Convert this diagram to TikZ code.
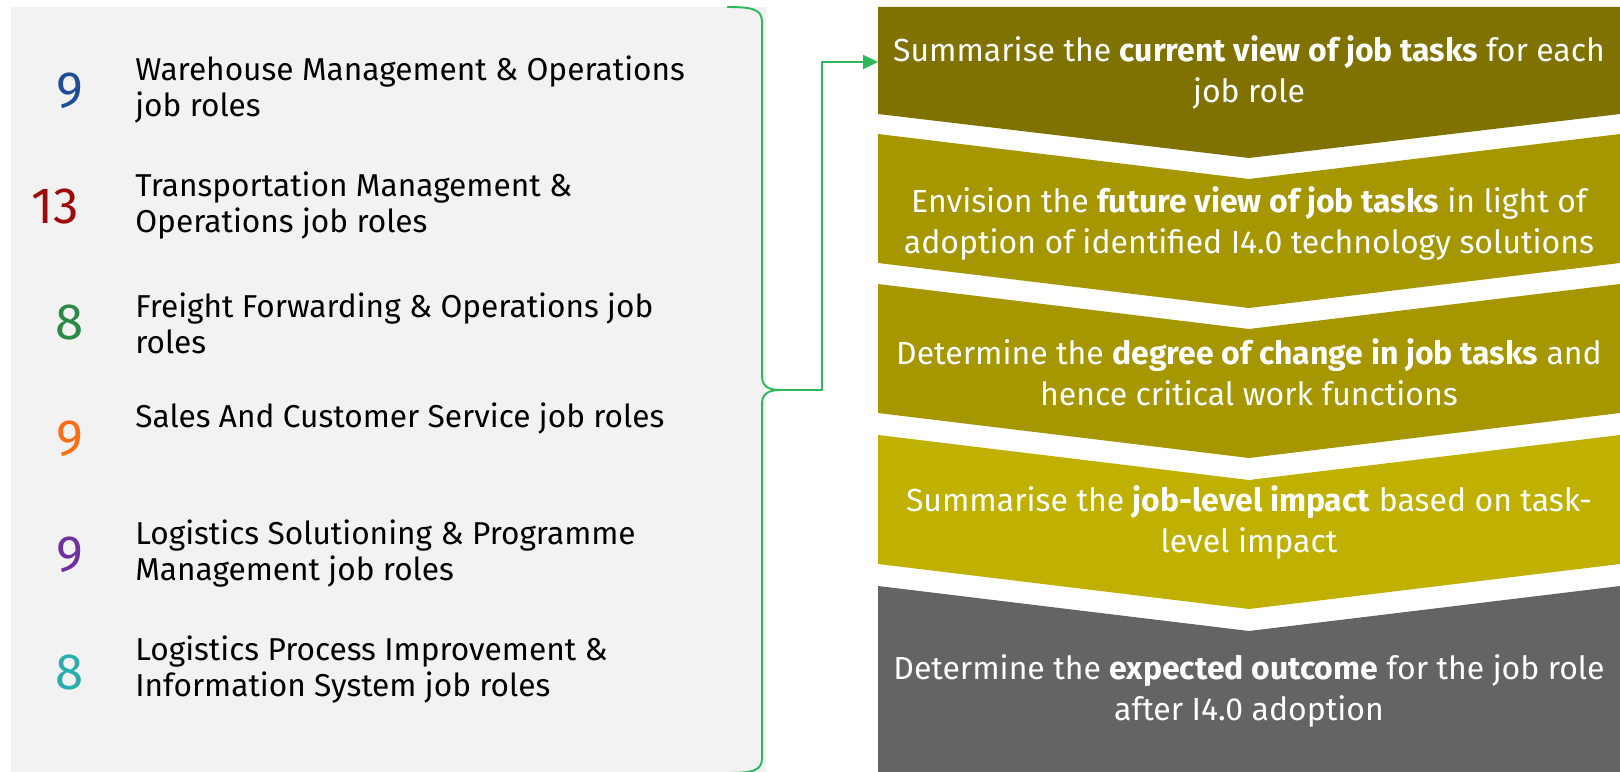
\documentclass[tikz,border=0pt]{standalone}
\usepackage{fontspec}
\setmainfont{Fira Sans}
\usetikzlibrary{arrows.meta,positioning,calc}

\definecolor{panelgray}{HTML}{F2F2F2}
\definecolor{linkgreen}{HTML}{2EB85C}
\definecolor{olivedark}{HTML}{7F7200}
\definecolor{olivemid}{HTML}{A69600}
\definecolor{olivelight}{HTML}{C0B000}
\definecolor{outgray}{HTML}{646464}
\definecolor{numblue}{HTML}{1F4E96}
\definecolor{numred}{HTML}{9E0A0A}
\definecolor{numgreen}{HTML}{2A8A46}
\definecolor{numorange}{HTML}{FF6D0F}
\definecolor{numpurple}{HTML}{7030A0}
\definecolor{numteal}{HTML}{28AFAD}

\begin{document}
\begin{tikzpicture}[
  x=0.2mm, y=-0.2mm,
  num/.style={font=\fontsize{29}{29}\selectfont, anchor=center},
  role/.style={anchor=west, align=left, inner sep=0pt,
               font=\fontsize{18}{20.5}\selectfont},
  steptext/.style={align=center, text=white, inner sep=0pt,
                   font=\fontsize{18.2}{23.3}\selectfont},
  bracepen/.style={draw=linkgreen, line width=1.1pt},
  link/.style={draw=linkgreen, line width=1.1pt,
               -{Triangle[length=3mm, width=2.8mm]}}
]
\useasboundingbox (0,0) rectangle (1620,772);

% left panel with the job role families
\fill[panelgray] (11,7) rectangle (766,772);

\node[num, text=numblue]   (n1) at (70,91)  {9};
\node[num, text=numred]    (n2) at (55,207) {13};
\node[num, text=numgreen]  (n3) at (70,323) {8};
\node[num, text=numorange] (n4) at (70,439) {9};
\node[num, text=numpurple] (n5) at (70,555) {9};
\node[num, text=numteal]   (n6) at (70,672) {8};

\node[role] (r1) at (135,90)  {Warehouse Management \& Operations\\job roles};
\node[role] (r2) at (135,206) {Transportation Management \&\\Operations job roles};
\node[role] (r3) at (135,323) {Freight Forwarding \& Operations job\\roles};
\node[role] (r4) at (135,419) {Sales And Customer Service job roles};
\node[role] (r5) at (135,554) {Logistics Solutioning \& Programme\\Management job roles};
\node[role] (r6) at (135,670) {Logistics Process Improvement \&\\Information System job roles};

% right column of chevrons
\fill[olivedark] (878,7) -- (1620,7) -- (1620,114) -- (1249,158) -- (878,114) -- cycle;
\fill[olivemid] (878,134) -- (1249,179) -- (1620,134) -- (1620,263) -- (1249,308) -- (878,263) -- cycle;
\fill[olivemid] (878,284) -- (1249,329) -- (1620,284) -- (1620,413) -- (1249,458) -- (878,413) -- cycle;
\fill[olivelight] (878,435) -- (1249,480) -- (1620,435) -- (1620,564) -- (1249,609) -- (878,564) -- cycle;
\fill[outgray] (878,586) -- (1249,631) -- (1620,586) -- (1620,772) -- (878,772) -- cycle;

\node[steptext] (s1) at (1249,72)
  {Summarise the \textbf{current view of job tasks} for each\\job role};
\node[steptext] (s2) at (1249,223)
  {Envision the \textbf{future view of job tasks} in light of\\adoption of identified I4.0 technology solutions};
\node[steptext] (s3) at (1249,372)
  {Determine the \textbf{degree of change in job tasks} and\\hence critical work functions};
\node[steptext] (s4) at (1249,522)
  {Summarise the \textbf{job-level impact} based on task-\\level impact};
\node[steptext] (s5) at (1249,691)
  {Determine the \textbf{expected outcome} for the job role\\after I4.0 adoption};

% brace and link into the first step
\coordinate (tip) at (780,390);
\coordinate (c1in) at (878,62);
\draw[bracepen] (727,7) .. controls (752,7) and (762,9) .. (762,22)
  -- (762,376) .. controls (762,386) and (768,390) .. (tip)
  .. controls (768,390) and (762,394) .. (762,404)
  -- (762,758) .. controls (762,771) and (752,773) .. (727,773);
\draw[link] (tip) -- ++(42,0) |- (c1in);
\end{tikzpicture}
\end{document}
